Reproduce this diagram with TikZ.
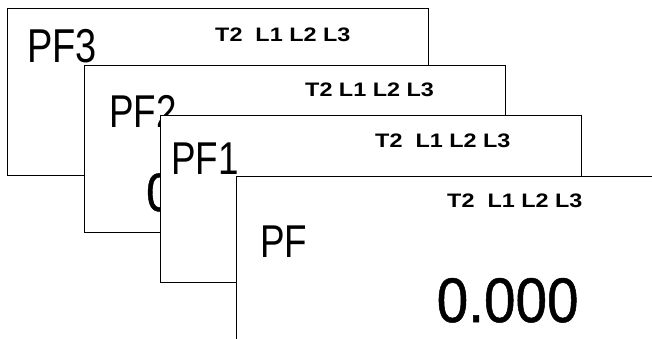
\documentclass[tikz,border=0pt]{standalone}
\usepackage{fontspec}
\newfontfamily\pffont[FakeStretch=0.8]{Liberation Sans}
\newfontfamily\numfont[FakeStretch=0.9,FakeBold=0.8]{Liberation Sans}
\newfontfamily\lblfont[FakeStretch=1.2]{Liberation Sans Bold}
\tikzset{
	screen/.style={draw,fill=white,line width=1.4pt,anchor=north west,inner sep=0pt,minimum width=421pt,minimum height=167pt},
	pfname/.style={anchor=base west,inner sep=0pt,font=\pffont\fontsize{46}{46}\selectfont},
	lamps/.style={anchor=base west,inner sep=0pt,font=\lblfont\fontsize{19.5}{19.5}\selectfont},
	reading/.style={anchor=base west,inner sep=0pt,font=\numfont\fontsize{#1}{#1}\selectfont}
}
\begin{document}
\begin{tikzpicture}[x=1pt,y=-1pt]
			\useasboundingbox (0,0) rectangle (652,339);
			\clip (0,0) rectangle (652,339);
			\node[screen] (scr3) at (7,8) {};
			\node[pfname,font=\pffont\fontsize{47.5}{47.5}\selectfont] (name3) at (27,63) {PF3};
			\node[lamps] (lamps3) at (215,42) {T2~~L1 L2 L3};
			\node[screen] (scr2) at (84,65) {};
			\node[pfname] (name2) at (109,128) {PF2};
			\node[lamps] (lamps2) at (305,97) {T2 L1 L2 L3};
			\node[reading=54] (value2) at (146,211) {0.000};
			\node[screen] (scr1) at (160,115) {};
			\node[pfname] (name1) at (171,175) {PF1};
			\node[lamps] (lamps1) at (375,147) {T2~~L1 L2 L3};
			\node[screen] (scr0) at (236,176) {};
			\node[pfname] (name0) at (260,257) {PF};
			\node[lamps] (lamps0) at (447,207) {T2~~L1 L2 L3};
			\node[reading=63] (value0) at (436.5,322) {0.000};
		\end{tikzpicture}
\end{document}
